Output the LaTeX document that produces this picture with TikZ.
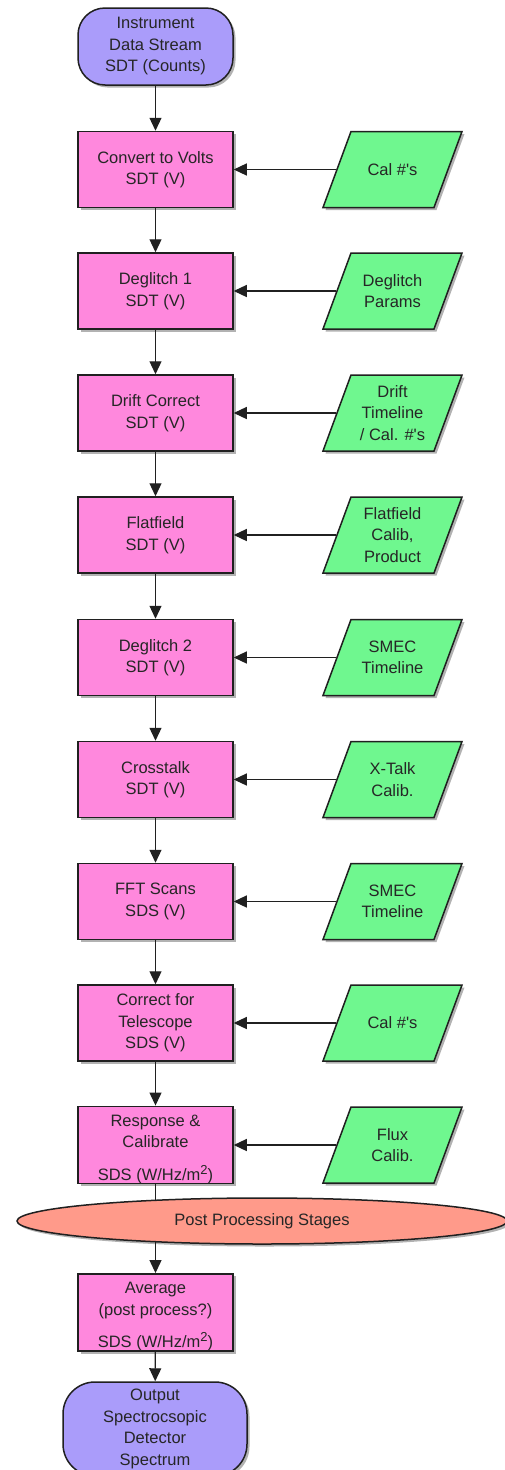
\documentclass[tikz,border=0pt]{standalone}
\usepackage{fontspec}
\setmainfont{Liberation Sans}
\usetikzlibrary{shapes.geometric,shadows,arrows.meta,backgrounds}

\definecolor{procpink}{HTML}{FF88DD}
\definecolor{termpurple}{HTML}{AA9CFA}
\definecolor{datagreen}{HTML}{6FF78F}
\definecolor{stagesalmon}{HTML}{FF9A8A}
\definecolor{inkdark}{HTML}{202020}

% squared metre with a full-size raised 2
\newcommand{\sqm}{m\raisebox{6pt}{\fontsize{13}{13}\selectfont 2}}
% taller first line so the three-line unit boxes sit a little lower
\newcommand{\firstline}{\rule{0pt}{20pt}}
% input parallelogram drawn around a named text node: name, x, y, text
\newcommand{\inputbox}[4]{%
  \draw[datashape] ({#2-69.5},{#3+38}) -- ({#2-41.5},{#3-38})
     -- ({#2+69.5},{#3-38}) -- ({#2+41.5},{#3+38}) -- cycle;
  \node[datatext] (#1) at (#2,#3) {#4};%
}

\begin{document}
\begin{tikzpicture}[x=1pt,y=-1pt,
  font=\fontsize{16.5}{21.5}\selectfont,
  boxshadow/.style={drop shadow={shadow xshift=2.5pt,shadow yshift=-2.5pt,opacity=0.3,fill=black}},
  procbox/.style={rectangle,draw=inkdark,line width=1.5pt,fill=procpink,
    minimum width=155pt,minimum height=76pt,inner sep=0pt,align=center,
    text=black!85,boxshadow},
  termbox/.style={rectangle,rounded corners=27pt,draw=inkdark,line width=1.5pt,
    fill=termpurple,minimum width=155pt,minimum height=77pt,inner sep=0pt,
    align=center,text=black!85,boxshadow},
  datashape/.style={draw=inkdark,line width=1.5pt,fill=datagreen,line join=miter,boxshadow},
  datatext/.style={rectangle,minimum width=111pt,minimum height=76pt,inner sep=0pt,
    outer sep=0.7pt,align=center,text=black!85},
  stagebar/.style={ellipse,draw=inkdark,line width=1.5pt,fill=stagesalmon,
    minimum width=490pt,minimum height=46pt,inner sep=0pt,text=black!85,boxshadow},
  flow/.style={color=inkdark,line width=1.2pt,-{Triangle[length=13pt,width=12pt]}},
  plain/.style={color=inkdark,line width=1.2pt}
]
\useasboundingbox (0,0) rectangle (505,1470);
\begin{scope}[on background layer]
  \fill[white] (0,0) rectangle (505,1470);
\end{scope}
\clip (0,0) rectangle (505,1470);

% main processing chain
\node[termbox] (src) at (155.5,46.5) {Instrument\\Data Stream\\SDT (Counts)};
\node[procbox] (b1) at (155.5,169.5) {Convert to Volts\\SDT (V)};
\node[procbox] (b2) at (155.5,291) {Deglitch 1\\SDT (V)};
\node[procbox] (b3) at (155.5,413) {Drift Correct\\SDT (V)};
\node[procbox] (b4) at (155.5,535) {Flatfield\\SDT (V)};
\node[procbox] (b5) at (155.5,657.5) {Deglitch 2\\SDT (V)};
\node[procbox] (b6) at (155.5,779.5) {Crosstalk\\SDT (V)};
\node[procbox] (b7) at (155.5,901.5) {FFT Scans\\SDS (V)};
\node[procbox] (b8) at (155.5,1023) {Correct for\\Telescope\\SDS (V)};
\node[procbox] (b9) at (155.5,1145) {\firstline Response \&\\Calibrate\\[11pt]SDS (W/Hz/\sqm)};
\node[stagebar] (post) at (262,1221) {Post Processing Stages};
\node[procbox] (avg) at (155.5,1312.5) {\firstline Average\\(post process?)\\[11pt]SDS (W/Hz/\sqm)};
\node[termbox,minimum width=184pt,minimum height=94pt,rounded corners=32pt] (out) at (155,1429)
  {Output\\Spectrocsopic\\Detector\\Spectrum};

% calibration inputs
\inputbox{d1}{392.5}{169.5}{Cal \#\textquotesingle s}
\inputbox{d2}{392.5}{291}{Deglitch\\Params}
\inputbox{d3}{392.5}{413}{Drift\\Timeline\\/ Cal. \#\textquotesingle s}
\inputbox{d4}{392.5}{535}{Flatfield\\Calib,\\Product}
\inputbox{d5}{392.5}{657.5}{SMEC\\Timeline}
\inputbox{d6}{392.5}{779.5}{X-Talk\\Calib.}
\inputbox{d7}{392.5}{901.5}{SMEC\\Timeline}
\inputbox{d8}{392.5}{1023}{Cal \#\textquotesingle s}
\inputbox{d9}{392.5}{1145}{Flux\\Calib.}

% connectors
\draw[flow] (src) -- (b1);
\draw[flow] (b1) -- (b2);
\draw[flow] (b2) -- (b3);
\draw[flow] (b3) -- (b4);
\draw[flow] (b4) -- (b5);
\draw[flow] (b5) -- (b6);
\draw[flow] (b6) -- (b7);
\draw[flow] (b7) -- (b8);
\draw[flow] (b8) -- (b9);
\draw[plain] (b9.south) -- (b9.south |- post.169);
\draw[flow] (avg.north |- post.191) -- (avg.north);
\draw[flow] (avg) -- (out);
\foreach \i in {1,...,9} {
  \draw[flow] (d\i) -- (b\i);
}
\end{tikzpicture}
\end{document}
